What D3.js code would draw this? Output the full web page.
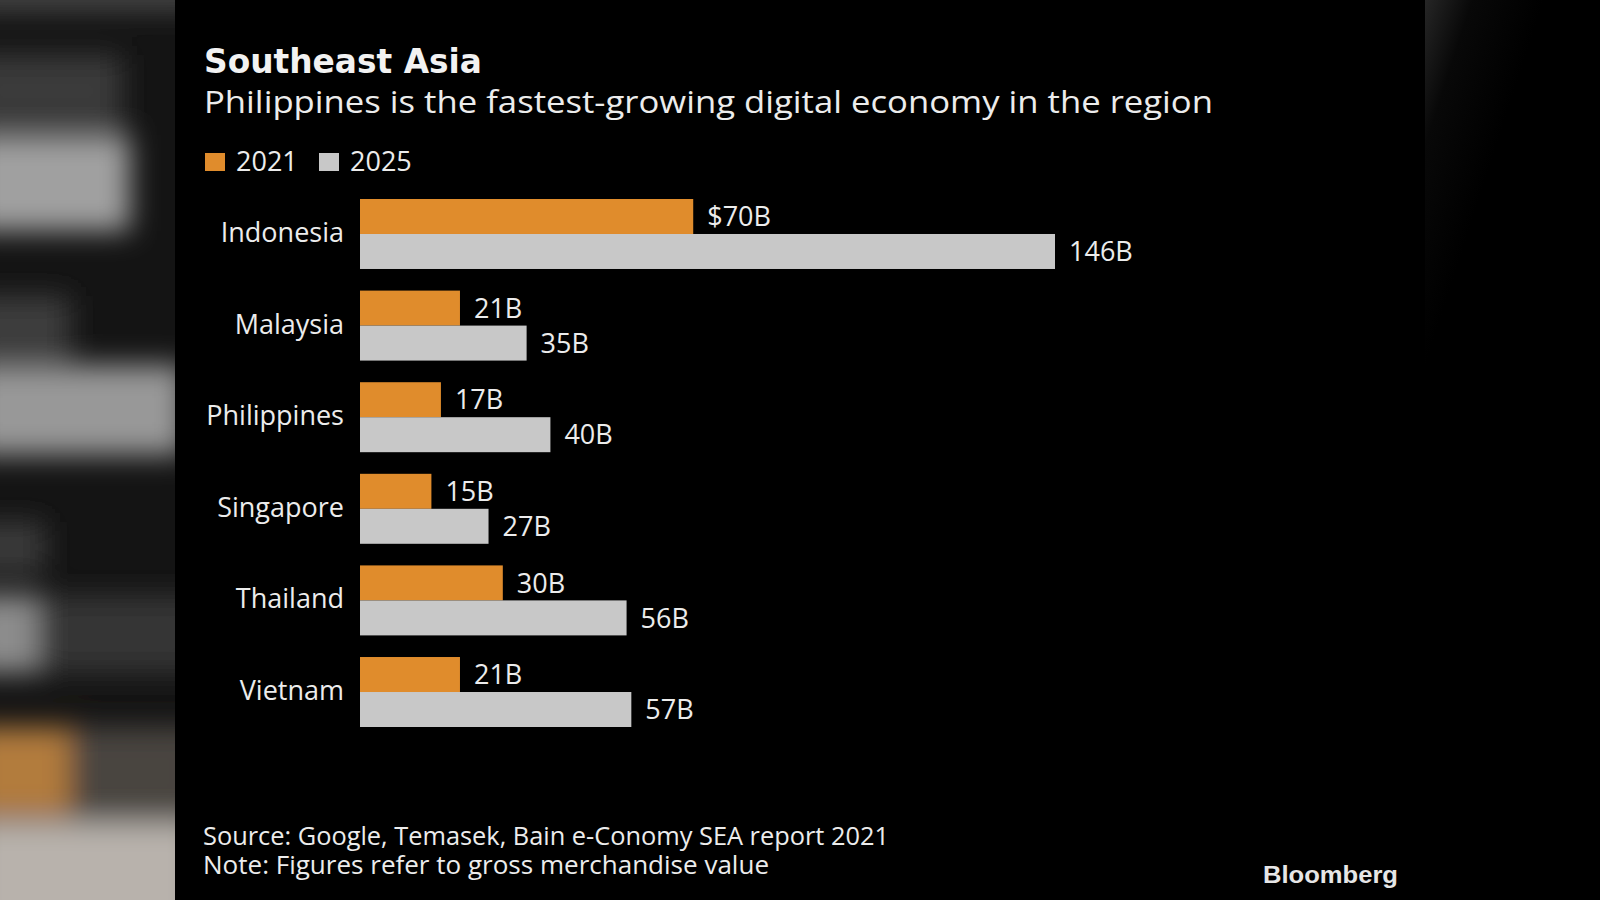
<!DOCTYPE html>
<html><head><meta charset="UTF-8">
<style>
  html, body { margin: 0; padding: 0; background: #000; }
  svg { display: block; }
  .txt { fill: #ececec; font-family: "Open Sans", "Noto Sans", sans-serif; }
  .title { fill: #f2f2f2; font-family: "DejaVu Sans", Verdana, sans-serif; font-weight: bold; }
  .logo { fill: #e6e6e6; font-family: "Liberation Sans", Arial, sans-serif; font-weight: bold; }
</style>
<script src="https://cdn.jsdelivr.net/npm/d3@7"></script>
</head><body>
<div id="chart"></div>
<script>
// data (billions USD, gross merchandise value)
var countries = ["Indonesia", "Malaysia", "Philippines", "Singapore", "Thailand", "Vietnam"];
var years = ["2021", "2025"];
var values2021 = [70, 21, 17, 15, 30, 21];
var values2025 = [146, 35, 40, 27, 56, 57];
var labels2021 = ["$70B", "21B", "17B", "15B", "30B", "21B"];
var labels2025 = ["146B", "35B", "40B", "27B", "56B", "57B"];

var title = "Southeast Asia";
var subtitle = "Philippines is the fastest-growing digital economy in the region";
var source = "Source: Google, Temasek, Bain e-Conomy SEA report 2021";
var note = "Note: Figures refer to gross merchandise value";

var W = 1600, H = 900;
var colors = { "2021": "#e08c2c", "2025": "#c8c8c8" };

var svg = d3.select("#chart").append("svg")
    .attr("width", W).attr("height", H);

// blurred photo edges either side of the panel
var defs = svg.append("defs");
defs.append("filter").attr("id", "blur")
    .attr("x", "-30%").attr("y", "-30%").attr("width", "160%").attr("height", "160%")
  .append("feGaussianBlur").attr("stdDeviation", 14);
defs.append("clipPath").attr("id", "leftclip")
  .append("rect").attr("x", 0).attr("y", 0).attr("width", 175).attr("height", H);
var grad = defs.append("linearGradient").attr("id", "rgrad")
    .attr("x1", 0).attr("y1", 0).attr("x2", 0.6).attr("y2", 1);
grad.append("stop").attr("offset", "0%").attr("stop-color", "#262626");
grad.append("stop").attr("offset", "12%").attr("stop-color", "#080808");
grad.append("stop").attr("offset", "30%").attr("stop-color", "#000");

// backdrop bands: [y, height, width, colour]
var backdrop = [
  [-20, 30, 200, "#4a4a4a"],
  [55, 72, 122, "#3a3a3a"],
  [135, 96, 130, "#a0a0a0"],
  [296, 62, 70, "#3e3e3e"],
  [365, 90, 185, "#989898"],
  [522, 50, 45, "#3a3a3a"],
  [595, 78, 200, "#343434"],
  [595, 78, 38, "#8c8c8c"],
  [727, 90, 200, "#4a4540"],
  [727, 90, 70, "#b27b3e"],
  [820, 120, 200, "#b8b2ac"]
];
var left = svg.append("g").attr("clip-path", "url(#leftclip)");
left.append("rect").attr("width", 175).attr("height", H).attr("fill", "#141414");
left.append("g").attr("filter", "url(#blur)")
  .selectAll("rect").data(backdrop).enter().append("rect")
    .attr("x", -30)
    .attr("y", function(d) { return d[0]; })
    .attr("width", function(d) { return d[2] + 30; })
    .attr("height", function(d) { return d[1]; })
    .attr("fill", function(d) { return d[3]; });
svg.append("rect").attr("x", 1425).attr("width", W - 1425).attr("height", H).attr("fill", "url(#rgrad)");

// panel
svg.append("rect").attr("x", 175).attr("width", 1250).attr("height", H).attr("fill", "#000");

// scales
var x = d3.scaleLinear().domain([0, 146]).range([360, 1055]);
var y = d3.scaleBand().domain(countries).range([199, 727]).paddingInner(0.236).paddingOuter(0);
var yy = d3.scaleBand().domain(years).range([0, y.bandwidth()]);

// titles
svg.append("text").attr("class", "title").attr("x", 204).attr("y", 73)
    .attr("font-size", 34).attr("textLength", 278).attr("lengthAdjust", "spacingAndGlyphs")
    .text(title);
svg.append("text").attr("class", "txt").attr("x", 204).attr("y", 113)
    .attr("font-size", 31).attr("textLength", 1009).attr("lengthAdjust", "spacingAndGlyphs")
    .text(subtitle);

// legend
var legX = [205, 319];
var leg = svg.append("g").selectAll("g").data(years).enter().append("g")
    .attr("transform", function(d, i) { return "translate(" + legX[i] + ",0)"; });
leg.append("rect").attr("y", 153).attr("width", 20).attr("height", 18)
    .attr("fill", function(d) { return colors[d]; });
leg.append("text").attr("class", "txt").attr("x", 31).attr("y", 171)
    .attr("font-size", 27).text(function(d) { return d; });

// rows
var rows = countries.map(function(c, i) {
  return { country: c, bars: [
    { year: "2021", value: values2021[i], label: labels2021[i] },
    { year: "2025", value: values2025[i], label: labels2025[i] }
  ] };
});

var g = svg.append("g").selectAll("g").data(rows).enter().append("g")
    .attr("transform", function(d) { return "translate(0," + y(d.country) + ")"; });

g.append("text").attr("class", "txt")
    .attr("x", 344).attr("y", y.bandwidth() / 2).attr("dy", "0.3em")
    .attr("text-anchor", "end").attr("font-size", 27)
    .text(function(d) { return d.country; });

var bar = g.selectAll(".bar").data(function(d) { return d.bars; }).enter().append("g")
    .attr("class", "bar");
bar.append("rect")
    .attr("x", x(0))
    .attr("y", function(d) { return yy(d.year); })
    .attr("width", function(d) { return x(d.value) - x(0); })
    .attr("height", yy.bandwidth())
    .attr("fill", function(d) { return colors[d.year]; });
bar.append("text").attr("class", "txt")
    .attr("x", function(d) { return x(d.value) + 14; })
    .attr("y", function(d) { return yy(d.year) + yy.bandwidth() / 2; })
    .attr("dy", "0.36em").attr("font-size", 27)
    .text(function(d) { return d.label; });

// footer
svg.append("text").attr("class", "txt").attr("x", 203).attr("y", 845)
    .attr("font-size", 25).attr("textLength", 686).attr("lengthAdjust", "spacingAndGlyphs")
    .text(source);
svg.append("text").attr("class", "txt").attr("x", 203).attr("y", 874)
    .attr("font-size", 25).attr("textLength", 566).attr("lengthAdjust", "spacingAndGlyphs")
    .text(note);
svg.append("text").attr("class", "logo").attr("x", 1263).attr("y", 883)
    .attr("font-size", 24).attr("textLength", 135).attr("lengthAdjust", "spacingAndGlyphs")
    .text("Bloomberg");
</script>
</body></html>
